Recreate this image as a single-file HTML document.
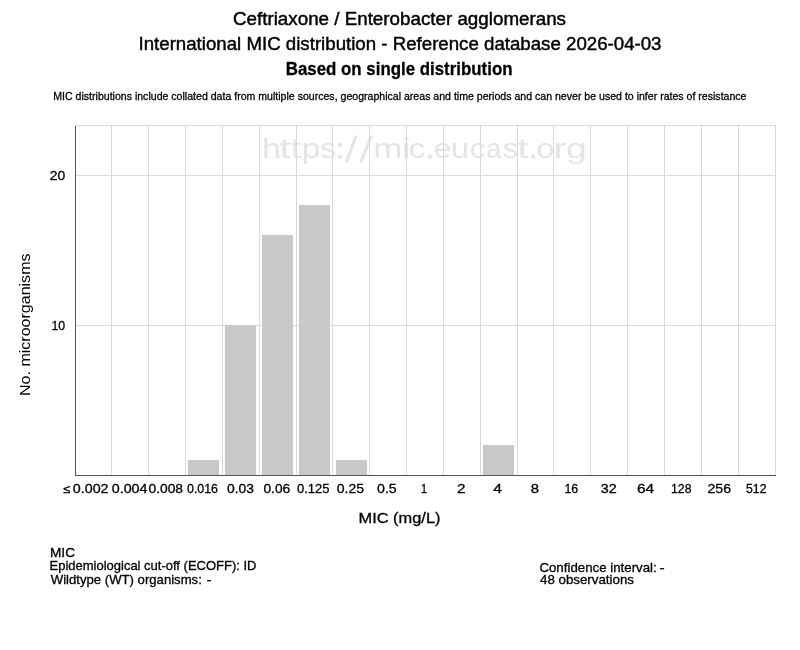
<!DOCTYPE html>
<html><head><meta charset="utf-8">
<style>
html,body{margin:0;padding:0;background:#fff;width:800px;height:650px;overflow:hidden}
svg{position:absolute;left:0;top:0;font-family:"Liberation Sans",sans-serif;white-space:pre;filter:grayscale(1)}
</style></head><body>
<svg width="800" height="650" viewBox="0 0 800 650">
<text transform="translate(262.12 158.3) scale(1.2102 1)" font-size="28.4" fill="#e5e5e5">h</text><text transform="translate(279.41 158.3) scale(1.3788 1)" font-size="28.4" fill="#e5e5e5">t</text><text transform="translate(290.41 158.3) scale(1.3788 1)" font-size="28.4" fill="#e5e5e5">t</text><text transform="translate(301.85 158.3) scale(1.1745 1)" font-size="28.4" fill="#e5e5e5">p</text><text transform="translate(320.11 158.3) scale(1.1305 1)" font-size="28.4" fill="#e5e5e5">s</text><text transform="translate(373.18 158.3) scale(1.2312 1)" font-size="28.4" fill="#e5e5e5">m</text><text transform="translate(401.84 158.3) scale(1.4022 1)" font-size="28.4" fill="#e5e5e5">i</text><text transform="translate(408.57 158.3) scale(1.1842 1)" font-size="28.4" fill="#e5e5e5">c</text><text transform="translate(433.64 158.3) scale(1.1256 1)" font-size="28.4" fill="#e5e5e5">e</text><text transform="translate(450.86 158.3) scale(1.1604 1)" font-size="28.4" fill="#e5e5e5">u</text><text transform="translate(469.65 158.3) scale(1.1188 1)" font-size="28.4" fill="#e5e5e5">c</text><text transform="translate(486.15 158.3) scale(0.9528 1)" font-size="28.4" fill="#e5e5e5">a</text><text transform="translate(502.74 158.3) scale(1.0902 1)" font-size="28.4" fill="#e5e5e5">s</text><text transform="translate(517.41 158.3) scale(1.3788 1)" font-size="28.4" fill="#e5e5e5">t</text><text transform="translate(536.35 158.3) scale(1.1335 1)" font-size="28.4" fill="#e5e5e5">o</text><text transform="translate(553.34 158.3) scale(1.4085 1)" font-size="28.4" fill="#e5e5e5">r</text><text transform="translate(565.92 158.3) scale(1.3232 1)" font-size="28.4" fill="#e5e5e5">g</text><g fill="#e5e5e5"><circle cx="340" cy="145" r="2.2"/><circle cx="340" cy="156.9" r="2.2"/><circle cx="430.25" cy="156.4" r="2.2"/><circle cx="533.2" cy="156.6" r="2.2"/><polygon points="344.6,162.6 347.8,162.6 357.9,135.4 354.7,135.4"/><polygon points="359.2,162.6 362.4,162.6 373.0,135.4 369.8,135.4"/></g>
<g stroke="#d9d9d9" stroke-width="1" shape-rendering="crispEdges"><line x1="75" y1="125.5" x2="776" y2="125.5"/><line x1="75" y1="175.5" x2="776" y2="175.5"/><line x1="75" y1="325.5" x2="776" y2="325.5"/><line x1="111.5" y1="125" x2="111.5" y2="475"/><line x1="148.5" y1="125" x2="148.5" y2="475"/><line x1="185.5" y1="125" x2="185.5" y2="475"/><line x1="222.5" y1="125" x2="222.5" y2="475"/><line x1="259.5" y1="125" x2="259.5" y2="475"/><line x1="296.5" y1="125" x2="296.5" y2="475"/><line x1="332.5" y1="125" x2="332.5" y2="475"/><line x1="369.5" y1="125" x2="369.5" y2="475"/><line x1="406.5" y1="125" x2="406.5" y2="475"/><line x1="443.5" y1="125" x2="443.5" y2="475"/><line x1="480.5" y1="125" x2="480.5" y2="475"/><line x1="517.5" y1="125" x2="517.5" y2="475"/><line x1="553.5" y1="125" x2="553.5" y2="475"/><line x1="590.5" y1="125" x2="590.5" y2="475"/><line x1="627.5" y1="125" x2="627.5" y2="475"/><line x1="664.5" y1="125" x2="664.5" y2="475"/><line x1="701.5" y1="125" x2="701.5" y2="475"/><line x1="738.5" y1="125" x2="738.5" y2="475"/><line x1="775.5" y1="125" x2="775.5" y2="475"/></g>
<g fill="#c8c8c8" shape-rendering="crispEdges"><rect x="188" y="460" width="31" height="15"/><rect x="225" y="325" width="31" height="150"/><rect x="262" y="235" width="31" height="240"/><rect x="299" y="205" width="31" height="270"/><rect x="336" y="460" width="31" height="15"/><rect x="483" y="445" width="31" height="30"/></g>
<g stroke="#555" stroke-width="1" shape-rendering="crispEdges">
<line x1="75.5" y1="126" x2="75.5" y2="476"/>
<line x1="75" y1="475.5" x2="776" y2="475.5"/>
</g>
<text x="399.50" y="24.60" font-size="18.80" textLength="333.00" lengthAdjust="spacingAndGlyphs" text-anchor="middle" fill="#000" stroke="#000" stroke-width="0.45">Ceftriaxone / Enterobacter agglomerans</text>
<text x="400.00" y="49.80" font-size="18.80" textLength="523.00" lengthAdjust="spacingAndGlyphs" text-anchor="middle" fill="#000" stroke="#000" stroke-width="0.45">International MIC distribution - Reference database 2026-04-03</text>
<text x="399.13" y="74.90" font-size="18.90" textLength="226.75" lengthAdjust="spacingAndGlyphs" font-weight="bold" text-anchor="middle" fill="#000" stroke="#000" stroke-width="0.3">Based on single distribution</text>
<text x="399.88" y="99.90" font-size="11.50" textLength="693.25" lengthAdjust="spacingAndGlyphs" text-anchor="middle" fill="#000" stroke="#000" stroke-width="0.3">MIC distributions include collated data from multiple sources, geographical areas and time periods and can never be used to infer rates of resistance</text>
<text x="57.50" y="180.00" font-size="13.10" textLength="15.50" lengthAdjust="spacingAndGlyphs" text-anchor="middle" fill="#000" stroke="#000" stroke-width="0.3">20</text>
<text x="58.38" y="330.00" font-size="13.10" textLength="13.75" lengthAdjust="spacingAndGlyphs" text-anchor="middle" fill="#000" stroke="#000" stroke-width="0.3">10</text>
<text x="399.50" y="522.90" font-size="14.50" textLength="82.00" lengthAdjust="spacingAndGlyphs" text-anchor="middle" fill="#000" stroke="#000" stroke-width="0.3">MIC (mg/L)</text>
<text x="62.50" y="556.80" font-size="12.80" textLength="25.00" lengthAdjust="spacingAndGlyphs" text-anchor="middle" fill="#000" stroke="#000" stroke-width="0.3">MIC</text>
<text x="153.00" y="570.10" font-size="12.80" textLength="207.00" lengthAdjust="spacingAndGlyphs" text-anchor="middle" fill="#000" stroke="#000" stroke-width="0.3">Epidemiological cut-off (ECOFF): ID</text>
<text x="126.32" y="583.80" font-size="12.80" textLength="151.01" lengthAdjust="spacingAndGlyphs" text-anchor="middle" fill="#000" stroke="#000" stroke-width="0.3">Wildtype (WT) organisms:</text>
<text x="598.08" y="571.70" font-size="12.80" textLength="117.32" lengthAdjust="spacingAndGlyphs" text-anchor="middle" fill="#000" stroke="#000" stroke-width="0.3">Confidence interval:</text>
<text x="587.00" y="583.70" font-size="12.80" textLength="94.00" lengthAdjust="spacingAndGlyphs" text-anchor="middle" fill="#000" stroke="#000" stroke-width="0.3">48 observations</text>
<text x="90.66" y="492.80" font-size="12.70" textLength="35.84" lengthAdjust="spacingAndGlyphs" text-anchor="middle" fill="#000" stroke="#000" stroke-width="0.3">0.002</text>
<text x="129.62" y="492.80" font-size="12.70" textLength="35.75" lengthAdjust="spacingAndGlyphs" text-anchor="middle" fill="#000" stroke="#000" stroke-width="0.3">0.004</text>
<text x="165.75" y="492.80" font-size="12.70" textLength="34.50" lengthAdjust="spacingAndGlyphs" text-anchor="middle" fill="#000" stroke="#000" stroke-width="0.3">0.008</text>
<text x="202.50" y="492.80" font-size="12.70" textLength="31.00" lengthAdjust="spacingAndGlyphs" text-anchor="middle" fill="#000" stroke="#000" stroke-width="0.3">0.016</text>
<text x="240.50" y="492.80" font-size="12.70" textLength="27.00" lengthAdjust="spacingAndGlyphs" text-anchor="middle" fill="#000" stroke="#000" stroke-width="0.3">0.03</text>
<text x="276.87" y="492.80" font-size="12.70" textLength="26.75" lengthAdjust="spacingAndGlyphs" text-anchor="middle" fill="#000" stroke="#000" stroke-width="0.3">0.06</text>
<text x="313.25" y="492.80" font-size="12.70" textLength="32.50" lengthAdjust="spacingAndGlyphs" text-anchor="middle" fill="#000" stroke="#000" stroke-width="0.3">0.125</text>
<text x="350.38" y="492.80" font-size="12.70" textLength="27.25" lengthAdjust="spacingAndGlyphs" text-anchor="middle" fill="#000" stroke="#000" stroke-width="0.3">0.25</text>
<text x="386.88" y="492.80" font-size="12.70" textLength="19.75" lengthAdjust="spacingAndGlyphs" text-anchor="middle" fill="#000" stroke="#000" stroke-width="0.3">0.5</text>
<text x="424.00" y="492.80" font-size="12.70" textLength="6.00" lengthAdjust="spacingAndGlyphs" text-anchor="middle" fill="#000" stroke="#000" stroke-width="0.3">1</text>
<text x="461.25" y="492.80" font-size="12.70" textLength="8.50" lengthAdjust="spacingAndGlyphs" text-anchor="middle" fill="#000" stroke="#000" stroke-width="0.3">2</text>
<text x="497.62" y="492.80" font-size="12.70" textLength="8.75" lengthAdjust="spacingAndGlyphs" text-anchor="middle" fill="#000" stroke="#000" stroke-width="0.3">4</text>
<text x="534.87" y="492.80" font-size="12.70" textLength="8.25" lengthAdjust="spacingAndGlyphs" text-anchor="middle" fill="#000" stroke="#000" stroke-width="0.3">8</text>
<text x="571.38" y="492.80" font-size="12.70" textLength="13.75" lengthAdjust="spacingAndGlyphs" text-anchor="middle" fill="#000" stroke="#000" stroke-width="0.3">16</text>
<text x="608.75" y="492.80" font-size="12.70" textLength="16.00" lengthAdjust="spacingAndGlyphs" text-anchor="middle" fill="#000" stroke="#000" stroke-width="0.3">32</text>
<text x="645.62" y="492.80" font-size="12.70" textLength="17.25" lengthAdjust="spacingAndGlyphs" text-anchor="middle" fill="#000" stroke="#000" stroke-width="0.3">64</text>
<text x="681.25" y="492.80" font-size="12.70" textLength="20.50" lengthAdjust="spacingAndGlyphs" text-anchor="middle" fill="#000" stroke="#000" stroke-width="0.3">128</text>
<text x="719.25" y="492.80" font-size="12.70" textLength="23.50" lengthAdjust="spacingAndGlyphs" text-anchor="middle" fill="#000" stroke="#000" stroke-width="0.3">256</text>
<text x="756.25" y="492.80" font-size="12.70" textLength="20.50" lengthAdjust="spacingAndGlyphs" text-anchor="middle" fill="#000" stroke="#000" stroke-width="0.3">512</text>
<text transform="translate(30.00 324.75) rotate(-90)" font-size="14.50" textLength="142.50" lengthAdjust="spacingAndGlyphs" text-anchor="middle" fill="#000">No. microorganisms</text>
<text x="208.99" y="583.80" font-size="12.80" textLength="5.15" lengthAdjust="spacingAndGlyphs" text-anchor="middle" fill="#000" stroke="#000" stroke-width="0.3">-</text>
<text x="661.99" y="571.70" font-size="12.80" textLength="5.15" lengthAdjust="spacingAndGlyphs" text-anchor="middle" fill="#000" stroke="#000" stroke-width="0.3">-</text>

<text transform="translate(63.15 492.8) scale(1.1253 1)" font-size="11.5" fill="#000" stroke="#000" stroke-width="0.3">≤</text>
</svg>
</body></html>
